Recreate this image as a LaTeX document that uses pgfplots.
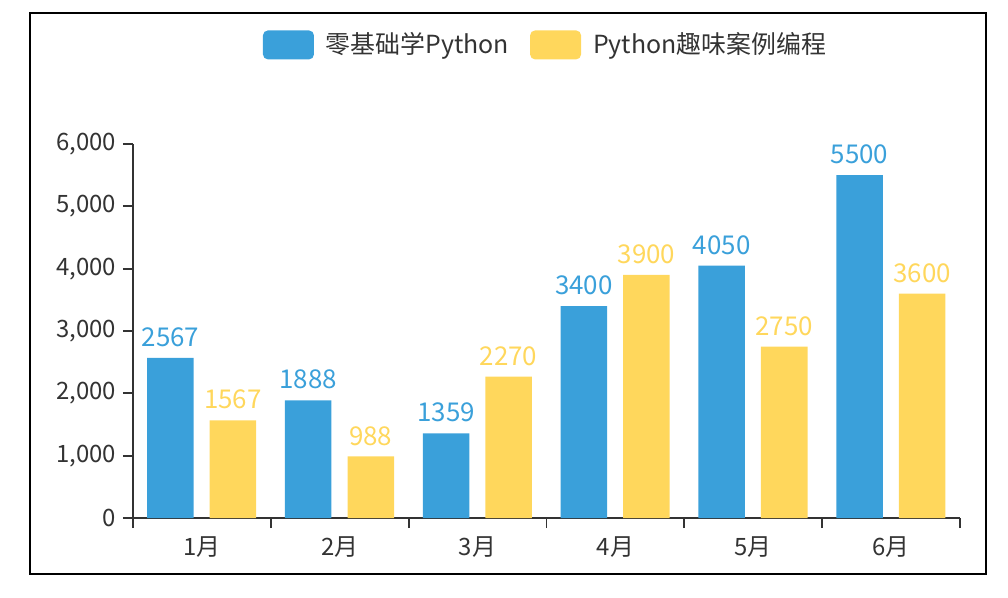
\documentclass[border=0pt]{standalone}
\usepackage{pgfplots}
\pgfplotsset{compat=1.18}
\usepackage{fontspec}
\setmainfont{Noto Sans CJK SC}
\definecolor{cblue}{HTML}{3AA0DA}
\definecolor{cyellow}{HTML}{FFD75C}
\definecolor{ctext}{HTML}{333333}
\begin{document}
\begin{tikzpicture}
\useasboundingbox (-66.5bp,-40bp) rectangle (437.5bp,259bp);
\draw[line width=1.2bp] (-51.5bp,-28bp) rectangle (426.5bp,252.5bp);
\begin{axis}[
  at={(0,0)}, anchor=south west,
  scale only axis, width=413.5bp, height=187bp,
  xmin=-0.5, xmax=5.5, ymin=0, ymax=6000,
  axis x line=bottom, axis y line=left,
  axis line style={-, draw=ctext, line width=1bp},
  every outer x axis line/.append style={-},
  every outer y axis line/.append style={-},
  tick align=outside, major tick length=5bp,
  tick style={draw=ctext, line width=0.9bp},
  ytick={0,1000,2000,3000,4000,5000,6000},
  scaled y ticks=false,
  /pgf/number format/assume math mode=true,
  yticklabel style={/pgf/number format/1000 sep={,}},
  xtick={-0.5,0.5,1.5,2.5,3.5,4.5,5.5},
  x tick label as interval,
  xticklabels={1月,2月,3月,4月,5月,6月},
  xticklabel style={yshift=-1bp},
  ticklabel style={font=\fontsize{12}{14}\selectfont, text=ctext},
  ybar, bar width=23.25bp,
  nodes near coords={\pgfmathprintnumber[1000 sep={}]{\pgfplotspointmeta}},
  every node near coord/.append style={font=\fontsize{13}{15}\selectfont, yshift=2bp},
  legend columns=2,
  legend style={draw=none, fill=none, at={(0.5,1.265)}, anchor=center,
    font=\fontsize{12.5}{15}\selectfont, text=ctext,
    /tikz/every odd column/.append style={column sep=4bp},
    /tikz/every even column/.append style={column sep=8.5bp}},
]
\addplot[fill=cblue, draw=none, bar shift=-15.75bp,
  every node near coord/.append style={text=cblue},
  legend image code/.code={\fill[cblue, rounded corners=2.5bp] (0bp,-7.25bp) rectangle (25.5bp,7.25bp);}]
  coordinates {(0,2567) (1,1888) (2,1359) (3,3400) (4,4050) (5,5500)};
\addlegendentry{零基础学Python}
\addplot[fill=cyellow, draw=none, bar shift=15.5bp,
  every node near coord/.append style={text=cyellow},
  legend image code/.code={\fill[cyellow, rounded corners=2.5bp] (0bp,-7.25bp) rectangle (25.5bp,7.25bp);}]
  coordinates {(0,1567) (1,988) (2,2270) (3,3900) (4,2750) (5,3600)};
\addlegendentry{Python趣味案例编程}
\end{axis}
\end{tikzpicture}
\end{document}
